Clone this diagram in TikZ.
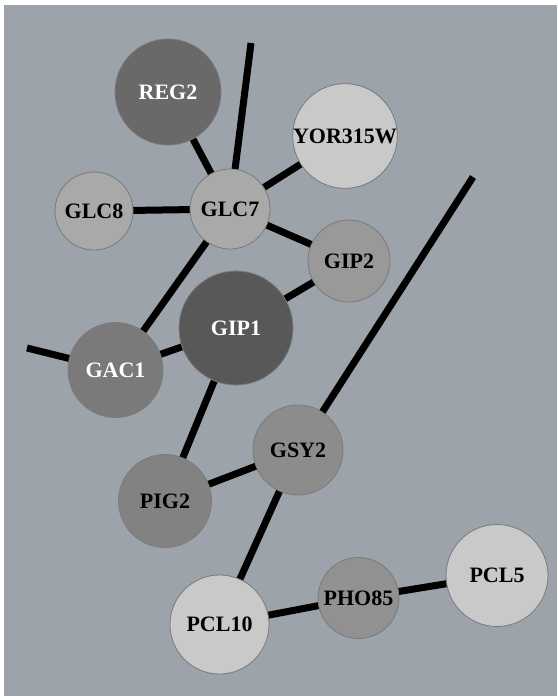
\documentclass[tikz,border=0pt]{standalone}
\usepackage{fontspec}
\setmainfont{Liberation Serif}
\usetikzlibrary{backgrounds}
\definecolor{bgc}{HTML}{9DA3AB}
\definecolor{cReg}{HTML}{696969}
\definecolor{cLight}{HTML}{C9C9C9}
\definecolor{cGlc}{HTML}{A9A9A9}
\definecolor{cGip2}{HTML}{999999}
\definecolor{cGip1}{HTML}{585858}
\definecolor{cGac}{HTML}{7A7A7A}
\definecolor{cGsy}{HTML}{8C8C8C}
\definecolor{cPig}{HTML}{828282}
\definecolor{cPho}{HTML}{919191}
\definecolor{cRim}{HTML}{7A7A7A}
\tikzset{
  gene/.style={circle, inner sep=0pt, draw=cRim, line width=0.8pt,
    font=\fontsize{22}{22}\selectfont\bfseries},
  link/.style={line width=7pt, black}
}
\begin{document}
\begin{tikzpicture}[x=1pt,y=-1pt]
\useasboundingbox (0,0) rectangle (557,696);
\node[gene, fill=cReg, text=white, minimum size=106pt] (REG2) at (168,92) {REG2};
\node[gene, fill=cLight, minimum size=92pt] (YOR) at (345,136) {YOR315W};
\node[gene, fill=cGlc, minimum size=80pt] (GLC7) at (230,209) {GLC7};
\node[gene, fill=cGlc, minimum size=78pt] (GLC8) at (94,211) {GLC8};
\node[gene, fill=cGip2, minimum size=82pt] (GIP2) at (349,261) {GIP2};
\node[gene, fill=cGip1, text=white, minimum size=114pt] (GIP1) at (236,328) {GIP1};
\node[gene, fill=cGac, text=white, minimum size=95pt] (GAC1) at (115.5,370) {GAC1};
\node[gene, fill=cGsy, minimum size=90pt] (GSY2) at (298,450) {GSY2};
\node[gene, fill=cPig, minimum size=93pt] (PIG2) at (165,501) {PIG2};
\node[gene, fill=cLight, minimum size=99pt] (PCL10) at (219.5,624.5) {PCL10};
\node[gene, fill=cPho, minimum size=81pt] (PHO85) at (358.5,598) {PHO85};
\node[gene, fill=cLight, minimum size=102pt] (PCL5) at (497,575.5) {PCL5};
\coordinate (e1) at (251,43);
\coordinate (e2) at (27,348);
\coordinate (e3) at (473,177);
\begin{scope}[on background layer]
\fill[bgc] (4,5) rectangle (557,696);
\draw[link] (REG2.center) -- (GLC7.center);
\draw[link] (GLC7.center) -- (YOR.center);
\draw[link] (GLC7.center) -- (GLC8.center);
\draw[link] (GLC7.center) -- (GIP2.center);
\draw[link] (GLC7.center) -- (e1);
\draw[link] (GLC7.center) -- (GAC1.center);
\draw[link] (GAC1.center) -- (e2);
\draw[link] (GAC1.center) -- (GIP1.center);
\draw[link] (GIP1.center) -- (GIP2.center);
\draw[link] (GIP1.center) -- (PIG2.center);
\draw[link] (PIG2.center) -- (GSY2.center);
\draw[link] (GSY2.center) -- (e3);
\draw[link] (GSY2.center) -- (PCL10.center);
\draw[link] (PCL10.center) -- (PHO85.center);
\draw[link] (PHO85.center) -- (PCL5.center);
\end{scope}
\end{tikzpicture}
\end{document}
